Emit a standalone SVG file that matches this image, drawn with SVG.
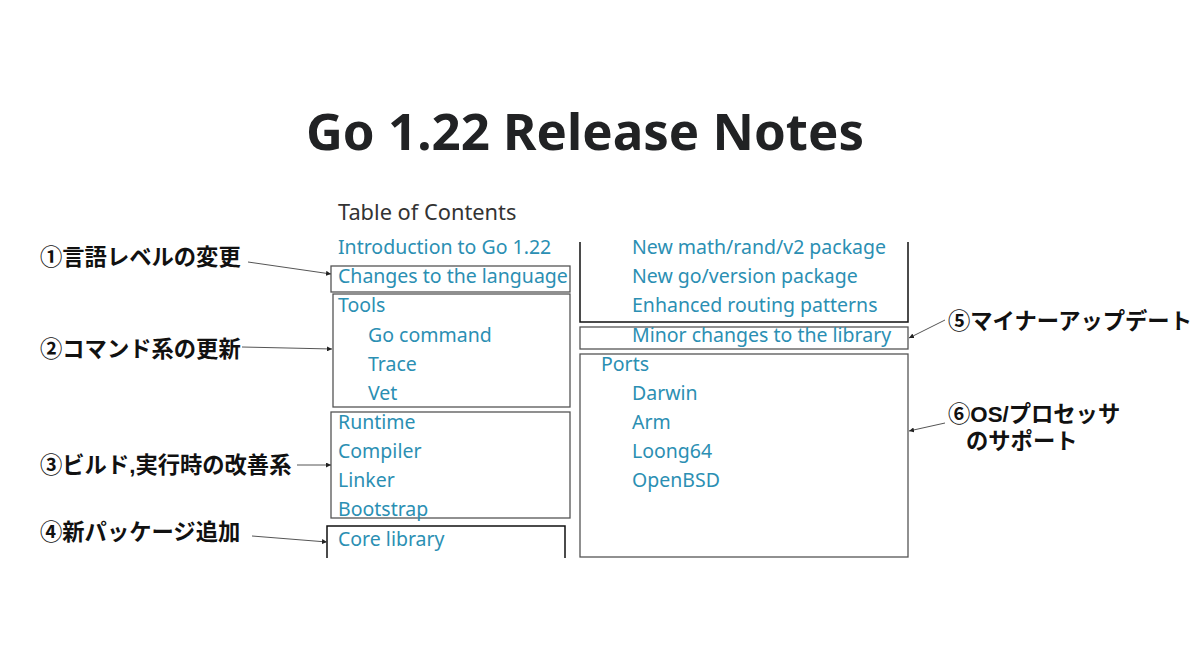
<svg xmlns="http://www.w3.org/2000/svg" width="1200" height="655" viewBox="0 0 1200 655">
<defs>
<marker id="ah" viewBox="0 0 6 6" refX="6" refY="3" markerWidth="5" markerHeight="5" orient="auto" markerUnits="userSpaceOnUse">
<path d="M0,0 L6,3 L0,6 z" fill="#222"/>
</marker>
<style>
.title{font-family:"Noto Sans","Open Sans",sans-serif;font-weight:bold;font-size:51px;fill:#212224}
.toc{font-family:"Noto Sans","Open Sans",sans-serif;font-size:21.8px;fill:#333}
.it{font-family:"Noto Sans","Open Sans",sans-serif;font-size:19.5px;fill:#2b8fb3}
.lbl{font-family:"Liberation Sans","Noto Sans CJK JP",sans-serif;font-weight:bold;font-size:22.3px;fill:#111}
.box{fill:none;stroke:#555;stroke-width:1.3}
.dk{fill:none;stroke:#111;stroke-width:1.5}
.ln{fill:none;stroke:#555;stroke-width:1;marker-end:url(#ah)}
</style>
</defs>
<rect width="1200" height="655" fill="#fff"/>
<text class="title" x="585" y="150" text-anchor="middle">Go 1.22 Release Notes</text>
<g id="toc">
<text class="toc" x="338" y="220">Table of Contents</text>
</g>
<g id="left-items">
<text class="it" x="338" y="254">Introduction to Go 1.22</text>
</g>
<g id="box1">
<rect class="box" x="331" y="266" width="239" height="26"/>
<text class="it" x="338" y="283">Changes to the language</text>
</g>
<g id="box2">
<rect class="box" x="333" y="294" width="237" height="113"/>
<text class="it" x="338" y="312">Tools</text>
<text class="it" x="368" y="342">Go command</text>
<text class="it" x="368" y="371">Trace</text>
<text class="it" x="368" y="400">Vet</text>
</g>
<g id="box3">
<rect class="box" x="331" y="412" width="239" height="106"/>
<text class="it" x="338" y="429">Runtime</text>
<text class="it" x="338" y="458">Compiler</text>
<text class="it" x="338" y="487">Linker</text>
<text class="it" x="338" y="516">Bootstrap</text>
</g>
<g id="box4">
<path class="dk" d="M327,558 L327,526 L565,526 L565,558"/>
<text class="it" x="338" y="546">Core library</text>
</g>
<g id="box4b">
<path class="dk" d="M580,242 L580,322 L908,322 L908,242"/>
<text class="it" x="632" y="254">New math/rand/v2 package</text>
<text class="it" x="632" y="283">New go/version package</text>
<text class="it" x="632" y="312">Enhanced routing patterns</text>
</g>
<g id="box5">
<rect class="box" x="580" y="327" width="328" height="22"/>
<text class="it" x="632" y="342">Minor changes to the library</text>
</g>
<g id="box6">
<rect class="box" x="580" y="354" width="328" height="203"/>
<text class="it" x="601" y="371">Ports</text>
<text class="it" x="632" y="400">Darwin</text>
<text class="it" x="632" y="429">Arm</text>
<text class="it" x="632" y="458">Loong64</text>
<text class="it" x="632" y="487">OpenBSD</text>
</g>
<g id="labels">
<text class="lbl" x="40" y="265">①言語レベルの変更</text>
<text class="lbl" x="40" y="357">②コマンド系の更新</text>
<text class="lbl" x="40" y="473">③ビルド,実行時の改善系</text>
<text class="lbl" x="40" y="540">④新パッケージ追加</text>
<text class="lbl" x="948" y="329">⑤マイナーアップデート</text>
<text class="lbl" x="948" y="422">⑥OS/プロセッサ</text>
<text class="lbl" x="966" y="449">のサポート</text>
</g>
<g id="connectors">
<path class="ln" d="M248,262 L331,274"/>
<path class="ln" d="M242,347 L332,349"/>
<path class="ln" d="M297,465 L331,465"/>
<path class="ln" d="M252,536 L327,542"/>
<path class="ln" d="M945,320 L909,338"/>
<path class="ln" d="M945,423 L909,431"/>
</g>
</svg>
